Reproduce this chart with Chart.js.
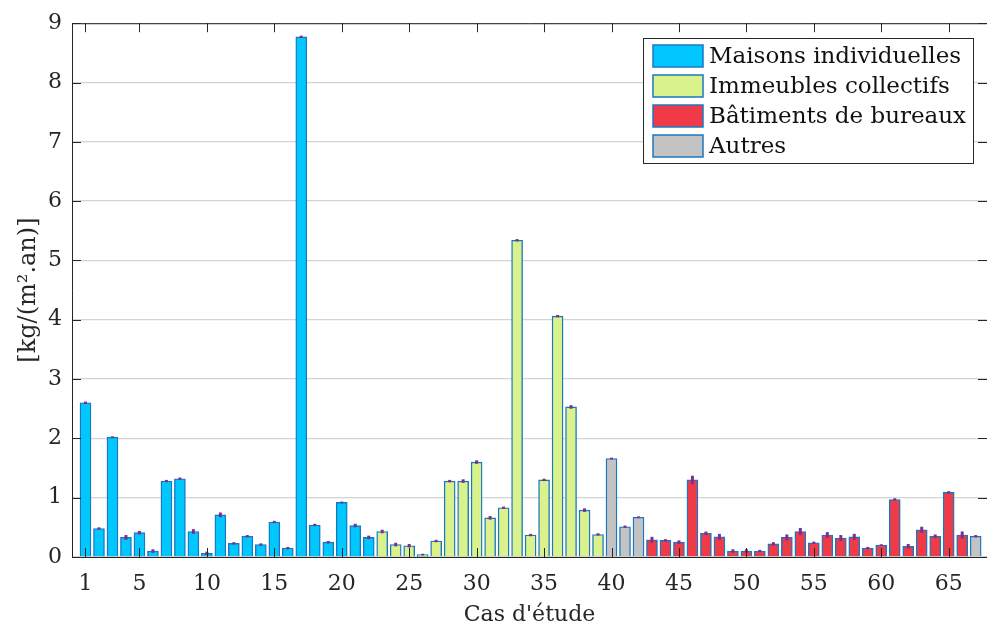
<!DOCTYPE html>
<html>
<head>
<meta charset="utf-8">
<script src="https://cdn.jsdelivr.net/npm/chart.js@4"></script>
<style>
  html, body { margin: 0; padding: 0; background: #fff; }
  #wrap { width: 987px; height: 625px; position: relative; }
</style>
</head>
<body>
<div id="wrap"><canvas id="myChart"></canvas></div>
<script>
// cas d'étude 1..67
const cases = [1,2,3,4,5,6,7,8,9,10,11,12,13,14,15,16,17,18,19,20,21,22,23,24,25,26,27,28,29,30,
  31,32,33,34,35,36,37,38,39,40,41,42,43,44,45,46,47,48,49,50,51,52,53,54,55,56,57,58,59,60,
  61,62,63,64,65,66,67]

// M = Maisons individuelles, I = Immeubles collectifs, B = Bâtiments de bureaux, A = Autres
const types = ['M','M','M','M','M','M','M','M','M','M','M','M','M','M','M','M','M','M','M','M','M','M',
  'I','I','I','I','I','I','I','I','I','I','I','I','I','I','I','I','I',
  'A','A','A',
  'B','B','B','B','B','B','B','B','B','B','B','B','B','B','B','B','B','B','B','B','B','B','B','B',
  'A']

const values = [2.60,0.48,2.02,0.33,0.41,0.10,1.28,1.32,0.43,0.06,0.71,0.23,0.35,0.21,0.59,0.15,8.77,0.54,0.25,0.92,0.53,0.33,
  0.43,0.21,0.19,0.04,0.27,1.28,1.28,1.60,0.66,0.83,5.34,0.37,1.30,4.06,2.53,0.79,0.38,
  1.66,0.51,0.67,
  0.29,0.28,0.25,1.30,0.40,0.34,0.10,0.10,0.10,0.22,0.33,0.43,0.24,0.37,0.32,0.34,0.15,0.20,0.97,0.18,0.46,0.35,1.09,0.37,
  0.35]

// half length of the error bars
const errors = [0.02,0.02,0.015,0.04,0.03,0.03,0.02,0.02,0.04,0.03,0.04,0.02,0.02,0.02,0.02,0.02,0.02,0.02,0.02,0.015,0.03,0.03,
  0.03,0.03,0.03,0.015,0.02,0.02,0.03,0.03,0.03,0.02,0.02,0.02,0.02,0.02,0.03,0.03,0.02,
  0.015,0.02,0.015,
  0.05,0.02,0.03,0.07,0.03,0.05,0.03,0.03,0.02,0.03,0.05,0.06,0.02,0.05,0.05,0.05,0.02,0.015,0.02,0.04,0.05,0.03,0.02,0.06,
  0.02]

const xTicks = [1,5,10,15,20,25,30,35,40,45,50,55,60,65]
const yTicks = [0,1,2,3,4,5,6,7,8,9]

const legendItems = [
  { key: 'M', label: 'Maisons individuelles', color: '#00c8ff' },
  { key: 'I', label: 'Immeubles collectifs', color: '#d9f28c' },
  { key: 'B', label: 'Bâtiments de bureaux', color: '#ef3b47' },
  { key: 'A', label: 'Autres', color: '#c3c3c3' }
]

const FONT = "'DejaVu Serif', 'Liberation Serif', serif"
const AXIS = '#262626'
const colorOf = {}
legendItems.forEach(it => { colorOf[it.key] = it.color })

// error bars, box, inward ticks and legend
const extras = {
  id: 'extras',
  afterDatasetsDraw(chart) {
    const ctx = chart.ctx
    const xs = chart.scales.x
    const ys = chart.scales.y
    ctx.save()
    ctx.strokeStyle = '#7e2f8e'
    ctx.lineWidth = 3
    values.forEach((v, i) => {
      const x = xs.getPixelForValue(cases[i])
      ctx.beginPath()
      ctx.moveTo(x, ys.getPixelForValue(v - errors[i]))
      ctx.lineTo(x, ys.getPixelForValue(v + errors[i]))
      ctx.stroke()
    })
    ctx.restore()
  },
  afterDraw(chart) {
    const ctx = chart.ctx
    const a = chart.chartArea
    const xs = chart.scales.x
    const ys = chart.scales.y
    ctx.save()
    ctx.strokeStyle = AXIS
    ctx.lineWidth = 1
    ctx.beginPath()
    ctx.moveTo(a.left, a.top + 0.5)
    ctx.lineTo(a.right, a.top + 0.5)
    ctx.stroke()
    const tl = 9
    xTicks.forEach(t => {
      const x = Math.round(xs.getPixelForValue(t)) + 0.5
      ctx.beginPath()
      ctx.moveTo(x, a.bottom); ctx.lineTo(x, a.bottom - tl)
      ctx.moveTo(x, a.top); ctx.lineTo(x, a.top + tl)
      ctx.stroke()
    })
    yTicks.forEach(t => {
      const y = Math.round(ys.getPixelForValue(t)) + 0.5
      ctx.beginPath()
      ctx.moveTo(a.left, y); ctx.lineTo(a.left + tl, y)
      ctx.moveTo(a.right, y); ctx.lineTo(a.right - tl, y)
      ctx.stroke()
    })

    // legend box
    const bx = 643.5, by = 38.5, bw = 330, bh = 125
    ctx.fillStyle = '#fff'
    ctx.fillRect(bx, by, bw, bh)
    ctx.strokeStyle = AXIS
    ctx.strokeRect(bx, by, bw, bh)
    ctx.font = '23px ' + FONT
    ctx.textBaseline = 'middle'
    legendItems.forEach((it, i) => {
      const cy = 56 + i * 30
      ctx.fillStyle = it.color
      ctx.fillRect(653, cy - 11, 50, 22)
      ctx.strokeStyle = '#1a78c2'
      ctx.lineWidth = 1.5
      ctx.strokeRect(653, cy - 11, 50, 22)
      ctx.fillStyle = '#111'
      ctx.fillText(it.label, 709, cy + 1)
    })
    ctx.restore()
  }
}

document.addEventListener('DOMContentLoaded', function() {
  const ctx = document.getElementById('myChart')
  new Chart(ctx, {
    type: 'bar',
    data: {
      datasets: [{
        data: cases.map((c, i) => ({ x: c, y: values[i] })),
        backgroundColor: types.map(t => colorOf[t]),
        borderColor: '#1a78c2',
        borderWidth: 1.4,
        barThickness: 11
      }]
    },
    options: {
      responsive: true,
      maintainAspectRatio: false,
      animation: false,
      layout: { padding: { top: 22, right: 0, bottom: 0, left: 0 } },
      plugins: {
        legend: { display: false },
        tooltip: { enabled: false }
      },
      scales: {
        x: {
          type: 'linear',
          offset: false,
          min: 0,
          max: 67.84,
          afterBuildTicks: (scale) => { scale.ticks = xTicks.map(v => ({ value: v })) },
          afterFit: (scale) => { scale.height = 68 },
          grid: { display: false, offset: false },
          border: { display: true, color: AXIS, width: 1 },
          ticks: {
            autoSkip: false,
            maxRotation: 0,
            padding: 6,
            color: AXIS,
            font: { family: FONT, size: 22 }
          },
          title: {
            display: true,
            text: "Cas d'étude",
            color: AXIS,
            padding: { top: 0, bottom: -3 },
            font: { family: FONT, size: 22 }
          }
        },
        y: {
          min: 0,
          max: 9,
          afterBuildTicks: (scale) => { scale.ticks = yTicks.map(v => ({ value: v })) },
          afterFit: (scale) => { scale.width = 72 },
          grid: { color: '#d4d4d4', drawTicks: false, lineWidth: 1.3 },
          border: { display: true, color: AXIS, width: 1 },
          ticks: {
            padding: 10,
            color: AXIS,
            font: { family: FONT, size: 22 }
          },
          title: {
            display: true,
            text: '[kg/(m².an)]',
            color: AXIS,
            padding: { top: 14, bottom: 0 },
            font: { family: FONT, size: 24 }
          }
        }
      }
    },
    plugins: [extras]
  })
})
</script>
</body>
</html>
